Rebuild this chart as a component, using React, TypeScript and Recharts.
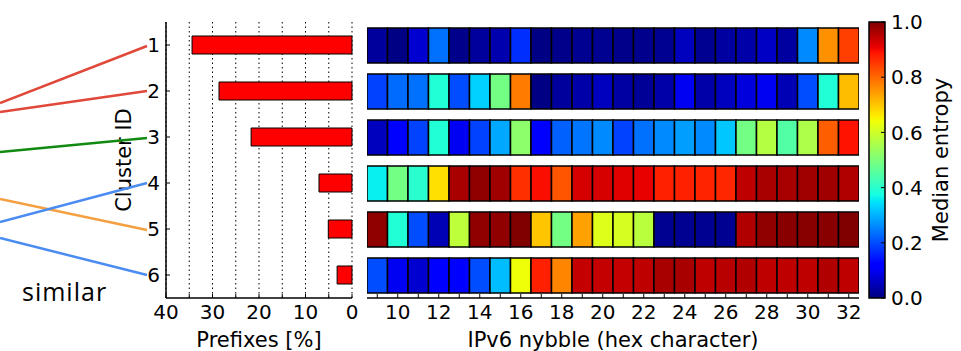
import { BarChart, Bar, XAxis, YAxis, CartesianGrid, Cell } from "recharts";

const clusters = ["1", "2", "3", "4", "5", "6"];
const prefixShare = [34.4, 28.6, 21.7, 7.1, 5.1, 3.2];
const prefixTicks = [0, 5, 10, 15, 20, 25, 30, 35, 40];

const nybbles = [9, 10, 11, 12, 13, 14, 15, 16, 17, 18, 19, 20, 21, 22, 23, 24, 25, 26, 27, 28, 29, 30, 31, 32];

// median entropy per nybble, one list per cluster
const entropy1 = [0.025, 0.005, 0.07, 0.235, 0.01, 0.025, 0.04, 0.17, 0.005, 0.01, 0.015, 0.015, 0.01, 0.012, 0.015, 0.055, 0.015, 0.028, 0.035, 0.06, 0.028, 0.26, 0.758, 0.843];
const entropy2 = [0.19, 0.23, 0.235, 0.39, 0.2, 0.33, 0.49, 0.78, 0.005, 0.025, 0.035, 0.055, 0.03, 0.02, 0.035, 0.1, 0.035, 0.055, 0.08, 0.1, 0.045, 0.2, 0.39, 0.71];
const entropy3 = [0.055, 0.12, 0.19, 0.39, 0.1, 0.19, 0.29, 0.52, 0.11, 0.22, 0.24, 0.26, 0.19, 0.235, 0.26, 0.28, 0.26, 0.32, 0.49, 0.57, 0.45, 0.56, 0.81, 0.89];
const entropy4 = [0.36, 0.49, 0.4, 0.673, 0.965, 0.986, 0.972, 0.86, 0.895, 0.82, 0.925, 0.925, 0.917, 0.91, 0.876, 0.876, 0.873, 0.87, 0.945, 0.965, 0.965, 0.972, 0.972, 0.958];
const entropy5 = [0.986, 0.39, 0.2, 0.045, 0.58, 0.986, 0.986, 1.0, 0.7, 0.49, 0.74, 0.62, 0.61, 0.575, 0.015, 0.015, 0.015, 0.015, 0.958, 0.986, 0.993, 0.993, 0.993, 1.0];
const entropy6 = [0.2, 0.1, 0.07, 0.115, 0.11, 0.2, 0.31, 0.64, 0.876, 0.77, 0.94, 0.94, 0.94, 0.945, 0.965, 0.965, 0.945, 0.95, 0.958, 0.945, 0.945, 0.945, 0.958, 0.945];
const entropyRows = [entropy1, entropy2, entropy3, entropy4, entropy5, entropy6];

const colorbarTicks = [0, 0.2, 0.4, 0.6, 0.8, 1.0];

// slide annotation: lines coming in from the left edge to each cluster label
const connectors = [
  { color: "#e0483a", from: 103, to: 46 },
  { color: "#e0483a", from: 112, to: 91 },
  { color: "#118a11", from: 152, to: 138 },
  { color: "#f5a040", from: 199, to: 230 },
  { color: "#4a8cf2", from: 222, to: 183 },
  { color: "#4a8cf2", from: 238, to: 275 },
];

// matplotlib "jet"
const JET: Record<string, number[][]> = {
  r: [[0, 0], [0.35, 0], [0.66, 1], [0.89, 1], [1, 0.5]],
  g: [[0, 0], [0.125, 0], [0.375, 1], [0.64, 1], [0.91, 0], [1, 0]],
  b: [[0, 0.5], [0.11, 1], [0.34, 1], [0.65, 0], [1, 0]],
};
const JET_STOPS = [0, 0.11, 0.125, 0.34, 0.35, 0.375, 0.64, 0.65, 0.66, 0.89, 0.91, 1];

function lerp(pts: number[][], v: number) {
  for (let i = 1; i < pts.length; i++) {
    if (v <= pts[i][0]) {
      const [x0, y0] = pts[i - 1];
      const [x1, y1] = pts[i];
      return y0 + ((v - x0) / (x1 - x0)) * (y1 - y0);
    }
  }
  return pts[pts.length - 1][1];
}
function jet(v: number) {
  const c = (k: string) => Math.round(255 * lerp(JET[k], Math.min(1, Math.max(0, v))));
  return `rgb(${c("r")},${c("g")},${c("b")})`;
}

const FONT = "DejaVu Sans";
const tickStyle = { fontSize: 20, fill: "#000", fontFamily: FONT };

const prefixData = clusters.map((c, i) => ({ cluster: c, share: prefixShare[i] }));
const heatData = clusters.map((c) => {
  const row: Record<string, number | string> = { cluster: c, base: nybbles[0] - 0.5 };
  nybbles.forEach((n) => (row[`n${n}`] = 1));
  return row;
});

const SideTitle = ({ viewBox, title, shift }: any) => {
  const x = viewBox.x + shift;
  const y = viewBox.y + viewBox.height / 2;
  return (
    <text x={x} y={y} transform={`rotate(-90 ${x} ${y})`} textAnchor="middle" dominantBaseline="central"
      fontSize={21} fontFamily={FONT} fill="#000">{title}</text>
  );
};
const BottomTitle = ({ viewBox, title }: any) => (
  <text x={viewBox.x + viewBox.width / 2} y={viewBox.y + viewBox.height - 4} textAnchor="middle"
    fontSize={21} fontFamily={FONT} fill="#000">{title}</text>
);

export default function App() {
  return (
    <div style={{ position: "absolute", left: 0, top: 0, width: 961, height: 351, background: "#fff", fontFamily: FONT }}>
      <div style={{ position: "absolute", left: 0, top: 0 }}>
        <BarChart width={360} height={351} data={prefixData} layout="vertical"
          margin={{ top: 22, right: 8, bottom: 0, left: 126 }} barSize={18}>
          <CartesianGrid horizontal={false} stroke="#000" strokeDasharray="1.5 3" />
          <XAxis type="number" domain={[0, 40]} reversed ticks={prefixTicks} interval={0} height={53}
            tick={tickStyle} tickFormatter={(v) => (v % 10 === 0 ? String(v) : "")}
            tickSize={-4} tickMargin={11} stroke="#000" axisLine={{ stroke: "#000", strokeWidth: 1.5 }}
            label={<BottomTitle title="Prefixes [%]" />} />
          <XAxis xAxisId="top" orientation="top" type="number" domain={[0, 40]} reversed ticks={prefixTicks}
            interval={0} height={0} tick={false} tickSize={-4} stroke="#000" axisLine={{ stroke: "#000", strokeWidth: 1.5 }} />
          <YAxis type="category" dataKey="cluster" width={40} tick={tickStyle} tickSize={-4} tickMargin={10}
            stroke="#000" axisLine={{ stroke: "#000", strokeWidth: 1.5 }}
            label={<SideTitle title="Cluster ID" shift={-2} />} />
          <YAxis yAxisId="right" orientation="right" type="category" dataKey="cluster" width={0} tick={false}
            tickSize={-4} stroke="#000" axisLine={{ stroke: "#000", strokeWidth: 1.5 }} />
          <Bar dataKey="share" fill="#ff0000" stroke="#000" strokeWidth={1} isAnimationActive={false} />
        </BarChart>
      </div>

      <div style={{ position: "absolute", left: 360, top: 0 }}>
        <BarChart width={510} height={351} data={heatData} layout="vertical"
          margin={{ top: 22, right: 11, bottom: 0, left: 7 }} barSize={35}>
          <XAxis type="number" domain={[8.5, 32.5]} allowDataOverflow ticks={nybbles} interval={0} height={53}
            tick={tickStyle} tickFormatter={(v) => (v % 2 === 0 ? String(v) : "")}
            tickSize={-4} tickMargin={11} stroke="#000" axisLine={{ stroke: "#000", strokeWidth: 1.5 }}
            label={<BottomTitle title="IPv6 nybble (hex character)" />} />
          <XAxis xAxisId="top" orientation="top" type="number" domain={[8.5, 32.5]} allowDataOverflow ticks={nybbles}
            interval={0} height={0} tick={false} tickSize={-4} stroke="#000" axisLine={{ stroke: "#000", strokeWidth: 1.5 }} />
          <YAxis type="category" dataKey="cluster" width={0} tick={false} tickSize={-4} stroke="#000"
            axisLine={{ stroke: "#000", strokeWidth: 1.5 }} />
          <YAxis yAxisId="right" orientation="right" type="category" dataKey="cluster" width={0} tick={false}
            tickSize={-4} stroke="#000" axisLine={{ stroke: "#000", strokeWidth: 1.5 }} />
          <Bar dataKey="base" stackId="h" fill="none" stroke="none" isAnimationActive={false} />
          {nybbles.map((n, j) => (
            <Bar key={n} dataKey={`n${n}`} stackId="h" stroke="#000" strokeWidth={1.5} isAnimationActive={false}>
              {entropyRows.map((row, i) => (
                <Cell key={i} fill={jet(row[j])} />
              ))}
            </Bar>
          ))}
        </BarChart>
      </div>

      <div style={{ position: "absolute", left: 860, top: 0 }}>
        <BarChart width={101} height={351} data={[{ name: "cb", v: 1 }]}
          margin={{ top: 22, right: 16, bottom: 53, left: 9 }} barCategoryGap={0}>
          <defs>
            <linearGradient id="jetBar" x1="0" y1="1" x2="0" y2="0">
              {JET_STOPS.map((s) => (
                <stop key={s} offset={s} stopColor={jet(s)} />
              ))}
            </linearGradient>
          </defs>
          <XAxis dataKey="name" hide />
          <YAxis orientation="right" type="number" domain={[0, 1]} ticks={colorbarTicks} interval={0} width={60}
            tick={{ ...tickStyle, textAnchor: "start" }} tickFormatter={(v) => v.toFixed(1)}
            tickSize={-4} tickMargin={10} stroke="#000" axisLine={false}
            label={<SideTitle title="Median entropy" shift={56} />} />
          <Bar dataKey="v" fill="url(#jetBar)" stroke="#000" strokeWidth={1.5} isAnimationActive={false} />
        </BarChart>
      </div>

      <svg width={961} height={351} style={{ position: "absolute", left: 0, top: 0, pointerEvents: "none" }}>
        {connectors.map((c, i) => (
          <line key={i} x1={0} y1={c.from} x2={147} y2={c.to} stroke={c.color} strokeWidth={2.5} />
        ))}
        <text x={22} y={301} fontSize={25} letterSpacing={1} fontFamily="Open Sans" fill="#000">similar</text>
      </svg>
    </div>
  );
}
